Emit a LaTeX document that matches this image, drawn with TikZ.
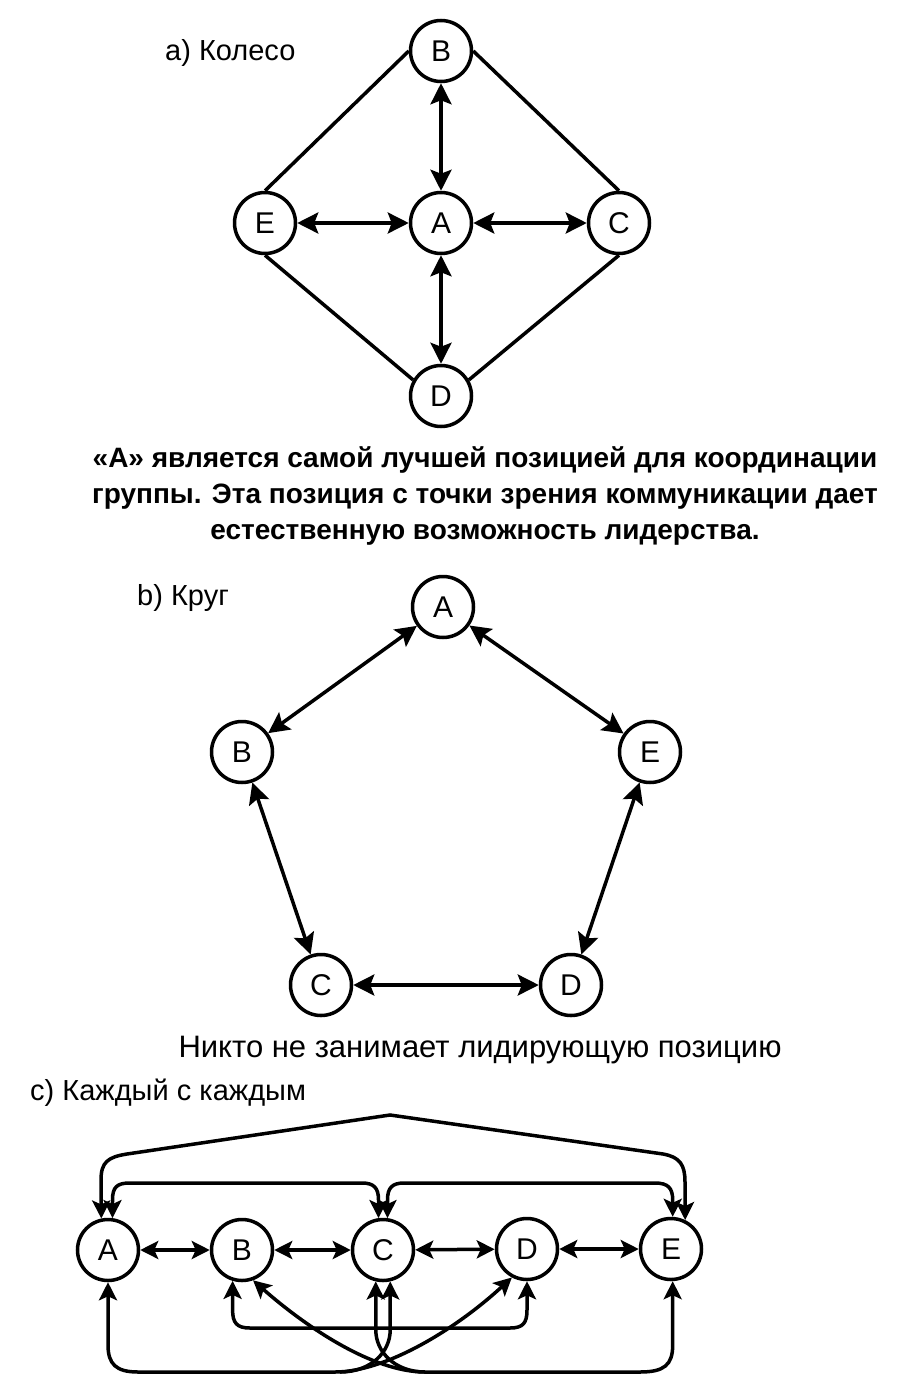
\documentclass[tikz,border=0pt]{standalone}
\usepackage{fontspec}
\setmainfont{Liberation Sans}
\usetikzlibrary{arrows.meta}

\begin{document}
\begin{tikzpicture}[x=1pt, y=-1pt,
    person/.style={circle, draw, line width=3.5pt, minimum size=61pt, inner sep=0pt, font=\fontsize{30}{30}\selectfont},
    link/.style={line width=3.5pt},
    both/.style={line width=3.5pt, <->, >={Stealth[length=#1, width=#1, inset=4pt]}},
    both/.default=21pt,
    title/.style={anchor=west, inner sep=0pt, font=\fontsize{29}{29}\selectfont}]

      \useasboundingbox (0,0) rectangle (908,1400);

      % a) wheel
      \node[title] (titleA) at (165,53) {a) Колесо};
      \node[person] (wB) at (441,51) {B};
      \node[person] (wA) at (441,223) {A};
      \node[person] (wE) at (265,223) {E};
      \node[person] (wC) at (619,223) {C};
      \node[person] (wD) at (441,396) {D};

      \draw [link] (wB.west) -- (wE.north);
      \draw [link] (wB.east) -- (wC.north);
      \draw [link] (wE.south) -- (wD.150);
      \draw [link] (wC.south) -- (wD.30);
      \draw [both] (wB) -- (wA);
      \draw [both] (wE) -- (wA);
      \draw [both] (wA) -- (wC);
      \draw [both] (wA) -- (wD);

      \node[align=center, inner sep=0pt, font=\fontsize{28}{36}\selectfont\bfseries] (noteA) at (485,496)
        {«А» является самой лучшей позицией для координации\\
         группы. Эта позиция с точки зрения коммуникации дает\\
         естественную возможность лидерства.};

      % b) circle
      \node[title] (titleB) at (137,598) {b) Круг};
      \node[person] (rA) at (443,607) {A};
      \node[person] (rB) at (242,752) {B};
      \node[person] (rE) at (650,752) {E};
      \node[person] (rC) at (321,985) {C};
      \node[person] (rD) at (571,985) {D};

      \draw [both] (rA) -- (rB);
      \draw [both] (rA) -- (rE);
      \draw [both] (rB) -- (rC);
      \draw [both] (rE) -- (rD);
      \draw [both] (rC) -- (rD);

      \node[inner sep=0pt, font=\fontsize{31}{31}\selectfont] (noteB) at (480,1050) {Никто не занимает лидирующую позицию};

      % c) all channels
      \node[title] (titleC) at (30,1093) {c) Каждый с каждым};
      \node[person] (kA) at (108,1250) {A};
      \node[person] (kB) at (242,1250) {B};
      \node[person] (kC) at (383,1250) {C};
      \node[person] (kD) at (527,1249) {D};
      \node[person] (kE) at (671,1249) {E};

      \draw [both=18pt] (kA) -- (kB);
      \draw [both=18pt] (kB) -- (kC);
      \draw [both=18pt] (kC) -- (kD);
      \draw [both=18pt] (kD) -- (kE);

      \draw [both=18pt] (kA.102) -- (101,1180) .. controls (101,1162) and (108,1157) .. (127,1154)
        -- (390,1115) -- (663,1154) .. controls (680,1157) and (685,1165) .. (685,1182) -- (kE.64);
      \draw [both=18pt] (kA.82) -- (112.5,1200) .. controls (112.5,1187) and (117,1183) .. (130,1183)
        -- (362,1183) .. controls (374,1183) and (378.5,1188) .. (378.5,1200) -- (kC.98);
      \draw [both=18pt] (kC.82) -- (387.5,1200) .. controls (387.5,1188) and (392,1183) .. (404,1183)
        -- (655,1183) .. controls (668,1183) and (672.7,1188) .. (672.7,1200) -- (kE.87);

      \draw [both=18pt] (kB.-107) -- (232.6,1310) .. controls (232.6,1323) and (237,1328) .. (250,1328)
        -- (510,1328) .. controls (523,1328) and (527,1323) .. (527,1310) -- (kD.-90);
      \draw [both=18pt] (kA.-90) -- (108,1345) .. controls (108,1364) and (116,1372) .. (138,1372)
        -- (335,1372) .. controls (385,1372) and (455,1330) .. (kD.-118);
      \draw [both=18pt] (kB.-70) .. controls (305,1326) and (372,1372) .. (425,1372)
        -- (640,1372) .. controls (664,1372) and (672.7,1365) .. (672.7,1345) -- (kE.-87);
      \draw [both=18pt, <-] (kC.-103) -- (375.8,1330) .. controls (375.8,1352) and (395,1372) .. (425,1372);
      \draw [both=18pt, <-] (kC.-77) -- (390.2,1330) .. controls (390.2,1352) and (371,1372) .. (340,1372);

    \end{tikzpicture}
\end{document}
